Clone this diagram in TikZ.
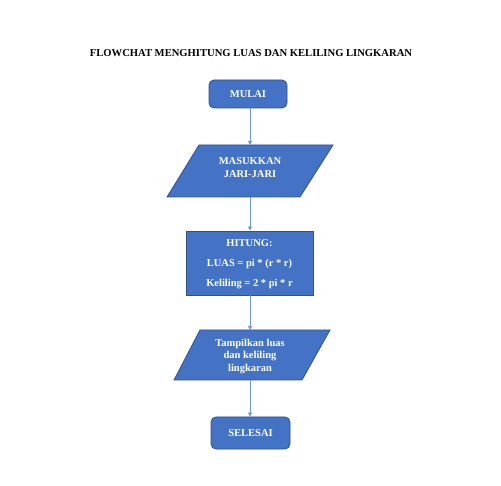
\documentclass[tikz,border=0pt]{standalone}
\usepackage{fontspec}
\setmainfont{Liberation Serif}
\usetikzlibrary{arrows.meta}
\definecolor{boxfill}{HTML}{4472C4}
\definecolor{boxline}{HTML}{2F528F}
\definecolor{arrowc}{HTML}{6F95D6}
\begin{document}
\begin{tikzpicture}[x=1pt,y=-1pt,
  shapebox/.style={fill=boxfill,draw=boxline,line width=0.8pt},
  roundbox/.style={shapebox,rounded corners=5pt,inner sep=0pt},
  rectbox/.style={shapebox,inner sep=0pt},
  txt/.style={text=white,font=\bfseries\fontsize{10.5}{13}\selectfont,align=center},
  slot/.style={inner sep=0pt,minimum width=1pt},
  conn/.style={draw=arrowc,line width=0.6pt,-{Triangle[width=4pt,length=4pt]}}]
\useasboundingbox (0,0) rectangle (501,486);
\fill[white] (0,0) rectangle (501,486);
% title
\node[font=\bfseries\fontsize{10.6}{12}\selectfont] (title) at (251,53) {FLOWCHAT MENGHITUNG LUAS DAN KELILING LINGKARAN};
% start
\node[roundbox,minimum width=78pt,minimum height=28pt,txt] (start) at (248,94) {MULAI};
% input parallelogram
\draw[shapebox] (199,145) -- (333,145) -- (300,197) -- (167,197) -- cycle;
\node[slot,minimum height=52pt,txt] (input) at (250,168) {MASUKKAN\\JARI-JARI};
% process
\node[rectbox,minimum width=127pt,minimum height=64pt] (proc) at (249.5,263) {};
\node[txt,font=\bfseries\fontsize{10.5}{20}\selectfont] (proctxt) at (249.5,264) {HITUNG:\\LUAS = pi * (r * r)\\Keliling = 2 * pi * r};
% output parallelogram
\draw[shapebox] (200,330) -- (330,330) -- (302,380) -- (174,380) -- cycle;
\node[slot,minimum height=50pt,txt,font=\bfseries\fontsize{10.5}{12.5}\selectfont] (output) at (250,356.5) {Tampilkan luas\\dan keliling\\lingkaran};
% end
\node[roundbox,minimum width=79pt,minimum height=32pt,txt] (stop) at (250.5,433) {SELESAI};
% connectors
\draw[conn] (start.south -| input) -- (input.north |- 0,145);
\draw[conn] (input.south |- 0,197) -- (proc.north -| input);
\draw[conn] (proc.south -| input) -- (output.north |- 0,330);
\draw[conn] (output.south |- 0,380) -- (stop.north -| output);
\end{tikzpicture}
\end{document}
